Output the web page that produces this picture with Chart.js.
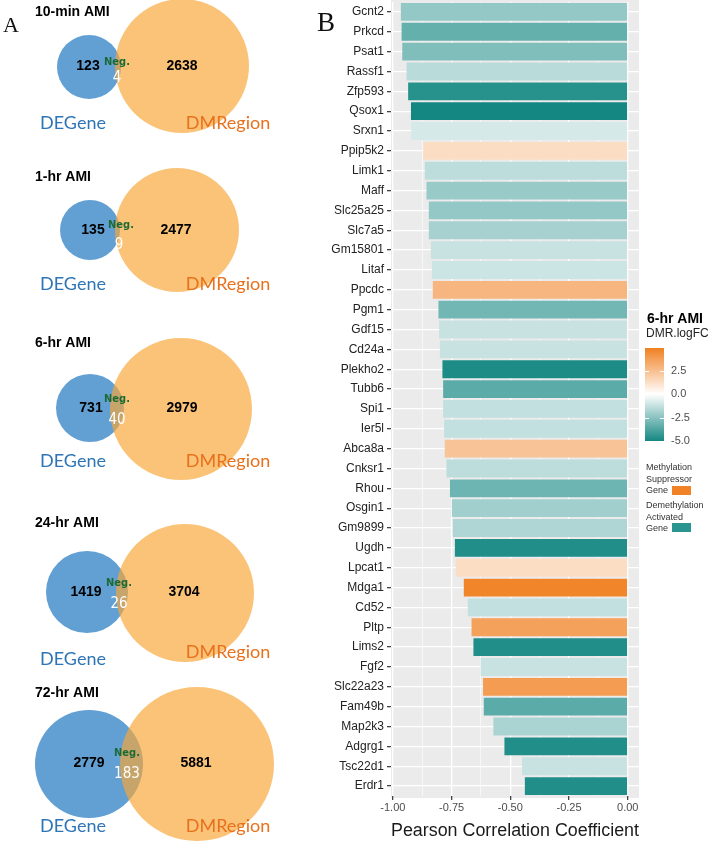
<!DOCTYPE html>
<html lang="en">
<head>
  <meta charset="UTF-8">
  <title>DEGene / DMRegion overlap and Pearson correlation</title>
  <style>
    body { margin: 0; background: #fff; }
    #wrap { position: relative; width: 708px; height: 842px; }
    .box { position: absolute; top: 0; height: 842px; }
  </style>
</head>
<body>
<div id="wrap">
  <div class="box" style="left:0;width:300px"><canvas id="vennChart"></canvas></div>
  <div class="box" style="left:300px;width:408px"><canvas id="barChart"></canvas></div>
</div>

<script src="https://cdn.jsdelivr.net/npm/chart.js@4.4.0/dist/chart.umd.min.js"></script>
<script>
  // ---- panel A data ----
  const timepoints = ['10-min AMI', '1-hr AMI', '6-hr AMI', '24-hr AMI', '72-hr AMI'];
  const deGeneOnly = [123, 135, 731, 1419, 2779];
  const dmRegionOnly = [2638, 2477, 2979, 3704, 5881];
  const negOverlap = [4, 9, 40, 26, 183];

  // ---- panel B data ----
  const genes = ['Gcnt2', 'Prkcd', 'Psat1', 'Rassf1', 'Zfp593', 'Qsox1', 'Srxn1', 'Ppip5k2', 'Limk1', 'Maff',
    'Slc25a25', 'Slc7a5', 'Gm15801', 'Litaf', 'Ppcdc', 'Pgm1', 'Gdf15', 'Cd24a', 'Plekho2', 'Tubb6',
    'Spi1', 'Ier5l', 'Abca8a', 'Cnksr1', 'Rhou', 'Osgin1', 'Gm9899', 'Ugdh', 'Lpcat1', 'Mdga1',
    'Cd52', 'Pltp', 'Lims2', 'Fgf2', 'Slc22a23', 'Fam49b', 'Map2k3', 'Adgrg1', 'Tsc22d1', 'Erdr1'];
  const pearsonR = [-0.966, -0.963, -0.960, -0.942, -0.935, -0.923, -0.922, -0.871, -0.864, -0.857,
    -0.847, -0.847, -0.838, -0.834, -0.830, -0.806, -0.803, -0.800, -0.789, -0.786,
    -0.786, -0.782, -0.779, -0.772, -0.757, -0.749, -0.745, -0.736, -0.732, -0.698,
    -0.681, -0.665, -0.657, -0.626, -0.616, -0.613, -0.572, -0.525, -0.450, -0.438];
  const dmrLogFC = [-2.3, -3.3, -2.7, -1.5, -4.6, -5.0, -0.9, 1.3, -1.4, -2.2,
    -2.3, -1.9, -1.2, -1.1, 2.8, -3.0, -1.2, -1.2, -4.8, -3.5,
    -1.3, -1.3, 2.3, -1.4, -3.1, -2.0, -1.7, -4.7, 1.3, 4.7,
    -1.3, 3.6, -4.7, -1.2, 3.8, -3.5, -1.8, -4.7, -1.2, -4.7];
  const xMajorTicks = [-1, -0.75, -0.5, -0.25, 0];
  const xMinorTicks = [-0.875, -0.625, -0.375, -0.125];
  const legendTicks = [2.5, 0, -2.5, -5];

  // gradient2 style fill: teal (-5) -> white (0) -> orange (+5)
  function fillFor(v) {
    const lo = [20, 135, 130], mid = [255, 255, 255], hi = [240, 125, 28];
    const t = Math.max(-1, Math.min(1, v / 5));
    const end = t < 0 ? lo : hi;
    const a = Math.abs(t);
    return 'rgb(' + mid.map((m, i) => Math.round(m + (end[i] - m) * a)).join(',') + ')';
  }

  // ---- panel A: venn circles as bubbles (pixel-like 0..300 x 0..842 space) ----
  const vennLayout = [
    { title: [35, 12], blue: [89, 67, 32], orange: [182, 66, 67], deNum: [88, 66], dmNum: [182, 66], neg: [117, 62], n: [117, 78], labY: [123, 123] },
    { title: [35, 177], blue: [90, 230, 30], orange: [177, 230, 62], deNum: [93, 230], dmNum: [176, 230], neg: [121, 225], n: [119, 245], labY: [284, 284] },
    { title: [35, 343], blue: [90, 408, 34], orange: [181, 409, 71], deNum: [91, 408], dmNum: [182, 408], neg: [117, 399], n: [117, 420], labY: [461, 461] },
    { title: [35, 523], blue: [87, 592, 41], orange: [185, 593, 69], deNum: [86, 592], dmNum: [184, 592], neg: [119, 583], n: [119, 604], labY: [659, 652] },
    { title: [35, 693], blue: [89, 764, 54], orange: [197, 764, 77], deNum: [89, 763], dmNum: [196, 763], neg: [127, 753], n: [127, 774], labY: [826, 826] }
  ];

  const vennText = {
    id: 'vennText',
    afterDatasetsDraw(chart) {
      const { ctx, scales } = chart;
      const px = v => scales.x.getPixelForValue(v);
      const py = v => scales.y.getPixelForValue(v);
      ctx.save();
      ctx.textBaseline = 'middle';
      ctx.fillStyle = '#111';
      ctx.font = '22px "Liberation Serif", serif';
      ctx.textAlign = 'center';
      ctx.fillText('A', px(11), py(26));
      vennLayout.forEach((L, i) => {
        ctx.textAlign = 'left';
        ctx.fillStyle = '#000';
        ctx.font = 'bold 14px "Liberation Sans", Arial';
        ctx.fillText(timepoints[i], px(L.title[0]), py(L.title[1]));
        ctx.textAlign = 'center';
        ctx.fillText(String(deGeneOnly[i]), px(L.deNum[0]), py(L.deNum[1]));
        ctx.fillText(String(dmRegionOnly[i]), px(L.dmNum[0]), py(L.dmNum[1]));
        ctx.fillStyle = '#1b6a34';
        ctx.font = 'bold 11px "Liberation Sans Narrow", "DejaVu Sans Condensed", Arial';
        ctx.fillText('Neg.', px(L.neg[0]), py(L.neg[1]));
        ctx.fillStyle = '#fff';
        ctx.font = '15px "Liberation Sans Narrow", "DejaVu Sans Condensed", Arial';
        ctx.fillText(String(negOverlap[i]), px(L.n[0]), py(L.n[1]));
        ctx.font = '18px Lato, "Open Sans", sans-serif';
        ctx.fillStyle = '#2e75b6';
        ctx.fillText('DEGene', px(73), py(L.labY[0]));
        ctx.fillStyle = '#e8711c';
        ctx.fillText('DMRegion', px(228), py(L.labY[1]));
      });
      ctx.restore();
    }
  };

  new Chart(document.getElementById('vennChart'), {
    type: 'bubble',
    data: {
      datasets: [
        {
          label: 'DMRegion',
          data: vennLayout.map(L => ({ x: L.orange[0], y: L.orange[1], r: L.orange[2] })),
          backgroundColor: 'rgba(248,167,56,0.68)',
          borderWidth: 0,
          clip: false,
          order: 1
        },
        {
          label: 'DEGene',
          data: vennLayout.map(L => ({ x: L.blue[0], y: L.blue[1], r: L.blue[2] })),
          backgroundColor: 'rgb(98,160,211)',
          borderWidth: 0,
          clip: false,
          order: 2
        }
      ]
    },
    options: {
      responsive: true,
      maintainAspectRatio: false,
      animation: false,
      events: [],
      layout: { padding: 0, autoPadding: false },
      plugins: { legend: { display: false }, tooltip: { enabled: false } },
      scales: {
        x: { type: 'linear', min: 0, max: 300, display: false },
        y: { type: 'linear', min: 0, max: 842, reverse: true, display: false }
      }
    },
    plugins: [vennText]
  });

  // ---- panel B ----
  const panelBg = {
    id: 'panelBg',
    beforeDraw(chart) {
      const { ctx, chartArea: a } = chart;
      ctx.save();
      ctx.fillStyle = '#ebebeb';
      ctx.fillRect(a.left, a.top - 2, a.right - a.left, a.bottom - a.top + 4);
      ctx.restore();
    }
  };

  const fillLegend = {
    id: 'fillLegend',
    afterDraw(chart) {
      const { ctx } = chart;
      ctx.save();
      ctx.fillStyle = '#111';
      ctx.font = '27px "Liberation Serif", serif';
      ctx.textAlign = 'left';
      ctx.textBaseline = 'middle';
      ctx.fillText('B', 17, 24);

      const x0 = 345, w = 19;
      const yOf = v => 394 - v * 9.4;
      const top = 4.9, bottom = -5.0;
      ctx.font = 'bold 14px "Liberation Sans", Arial';
      ctx.fillStyle = '#000';
      ctx.fillText('6-hr AMI', 347, 319);
      ctx.font = '12px "Liberation Sans", Arial';
      ctx.fillStyle = '#222';
      ctx.fillText('DMR.logFC', 346, 334);
      for (let y = Math.round(yOf(top)); y < Math.round(yOf(bottom)); y++) {
        const v = (394 - y - 0.5) / 9.4;
        ctx.fillStyle = fillFor(v);
        ctx.fillRect(x0, y, w, 1);
      }
      ctx.strokeStyle = '#fff';
      ctx.lineWidth = 1;
      ctx.font = '11px "Liberation Sans", Arial';
      legendTicks.forEach(v => {
        const y = Math.round(yOf(v)) + 0.5;
        ctx.beginPath();
        ctx.moveTo(x0, y); ctx.lineTo(x0 + 4, y);
        ctx.moveTo(x0 + w - 4, y); ctx.lineTo(x0 + w, y);
        ctx.stroke();
        ctx.fillStyle = '#4d4d4d';
        ctx.fillText(v.toFixed(1), 371, yOf(v));
      });

      ctx.font = '9px "Liberation Sans", Arial';
      ctx.fillStyle = '#333';
      ['Methylation', 'Suppressor', 'Gene'].forEach((t, i) => ctx.fillText(t, 346, 468 + i * 11.3));
      ctx.fillStyle = fillFor(4.8);
      ctx.fillRect(372, 486, 19, 9);
      ctx.fillStyle = '#333';
      ['Demethylation', 'Activated', 'Gene'].forEach((t, i) => ctx.fillText(t, 346, 506 + i * 11.3));
      ctx.fillStyle = '#2a9490';
      ctx.fillRect(372, 523, 19, 9);
      ctx.restore();
    }
  };

  new Chart(document.getElementById('barChart'), {
    type: 'bar',
    data: {
      labels: genes,
      datasets: [{
        label: 'Pearson r',
        data: pearsonR,
        backgroundColor: dmrLogFC.map(fillFor),
        borderWidth: 0,
        categoryPercentage: 0.9,
        barPercentage: 1.0
      }]
    },
    options: {
      indexAxis: 'y',
      responsive: true,
      maintainAspectRatio: false,
      animation: false,
      events: [],
      layout: { padding: { top: 2, right: 69, bottom: 0, left: 0 } },
      plugins: { legend: { display: false }, tooltip: { enabled: false } },
      scales: {
        x: {
          type: 'linear',
          min: -1.008,
          max: 0.048,
          afterBuildTicks: scale => {
            scale.ticks = xMajorTicks.concat(xMinorTicks).sort((a, b) => a - b).map(v => ({ value: v }));
          },
          afterFit: scale => {
            scale.height = 46;
            scale.paddingLeft = 0;
            scale.paddingRight = 0;
          },
          border: { display: false },
          grid: {
            color: '#ffffff',
            lineWidth: c => (c.tick && xMajorTicks.includes(c.tick.value) ? 1.3 : 0.6),
            tickColor: c => (c.tick && xMajorTicks.includes(c.tick.value) ? '#444' : 'rgba(0,0,0,0)'),
            tickLength: 4
          },
          ticks: {
            autoSkip: false,
            maxRotation: 0,
            padding: 1,
            color: '#4d4d4d',
            font: { family: '"Liberation Sans", Arial', size: 11 },
            callback: v => (xMajorTicks.includes(v) ? v.toFixed(2) : '')
          },
          title: {
            display: true,
            text: 'Pearson Correlation Coefficient',
            color: '#1a1a1a',
            font: { family: '"Liberation Sans", Arial', size: 18 },
            padding: { top: 2, bottom: 0 }
          }
        },
        y: {
          type: 'category',
          afterFit: scale => {
            scale.width = 91;
            scale.paddingTop = 0;
            scale.paddingBottom = 0;
          },
          border: { display: false },
          grid: {
            offset: false,
            color: '#ffffff',
            lineWidth: 1.3,
            tickColor: '#444',
            tickLength: 4
          },
          ticks: {
            autoSkip: false,
            padding: 3,
            color: '#222',
            font: { family: '"Liberation Sans", Arial', size: 12 }
          }
        }
      }
    },
    plugins: [panelBg, fillLegend]
  });
</script>
</body>
</html>
